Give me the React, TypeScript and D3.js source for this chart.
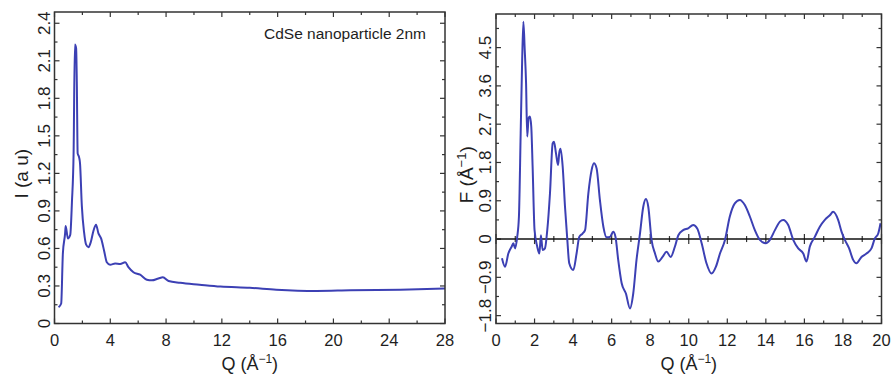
import React, { useEffect, useRef } from "react";
import * as d3 from "d3";

// left panel: scattered intensity I(Q)
const iQ = [0.29, 0.48, 0.6, 0.76, 0.8, 0.96, 1.13, 1.25, 1.37, 1.46, 1.55, 1.6, 1.66, 1.76, 1.83, 1.96, 2.12, 2.27, 2.44, 2.6, 2.79, 2.98, 3.15, 3.34, 3.56, 3.75, 3.99, 4.35, 4.71, 5.07, 5.3, 5.66, 6.14, 6.62, 6.98, 7.45, 7.77, 8.18, 9.01, 10.4, 11.9, 14.0, 15.9, 18.8, 21.2, 24.8, 28];
const iVal = [0.13, 0.16, 0.56, 0.72, 0.78, 0.68, 0.71, 0.97, 1.37, 2.23, 2.2, 1.93, 1.36, 1.33, 1.28, 0.94, 0.73, 0.63, 0.61, 0.65, 0.74, 0.79, 0.72, 0.68, 0.58, 0.49, 0.47, 0.48, 0.475, 0.49, 0.45, 0.41, 0.39, 0.35, 0.345, 0.36, 0.37, 0.34, 0.325, 0.31, 0.295, 0.285, 0.27, 0.26, 0.265, 0.27, 0.28];

// right panel: reduced structure function F(Q)
const fQ = [0.31, 0.47, 0.64, 0.81, 0.9, 0.99, 1.1, 1.19, 1.28, 1.35, 1.42, 1.49, 1.56, 1.62, 1.69, 1.76, 1.83, 1.9, 2.0, 2.14, 2.25, 2.33, 2.42, 2.54, 2.66, 2.8, 2.94, 3.01, 3.11, 3.22, 3.28, 3.35, 3.46, 3.58, 3.7, 3.8, 4.01, 4.18, 4.32, 4.49, 4.62, 4.79, 4.96, 5.08, 5.22, 5.39, 5.57, 5.74, 5.91, 6.08, 6.2, 6.34, 6.52, 6.74, 6.95, 7.12, 7.29, 7.47, 7.64, 7.78, 7.9, 8.07, 8.25, 8.42, 8.64, 8.85, 9.06, 9.28, 9.46, 9.71, 9.97, 10.23, 10.44, 10.67, 10.92, 11.18, 11.41, 11.62, 11.88, 12.13, 12.39, 12.65, 12.91, 13.17, 13.43, 13.69, 14.0, 14.21, 14.47, 14.73, 14.9, 15.16, 15.42, 15.68, 15.94, 16.11, 16.28, 16.54, 16.8, 17.06, 17.32, 17.49, 17.75, 17.93, 18.1, 18.32, 18.53, 18.7, 18.96, 19.22, 19.48, 19.65, 19.83, 19.95];
const fVal = [-0.45, -0.65, -0.34, -0.18, -0.1, -0.22, 0.05, 0.53, 2.49, 4.05, 5.11, 4.45, 3.66, 2.41, 2.84, 2.88, 2.64, 1.7, 0.21, -0.18, -0.34, 0.09, -0.26, -0.22, 0.21, 1.07, 2.25, 2.29, 2.02, 1.74, 2.02, 2.12, 1.7, 0.76, -0.02, -0.57, -0.73, -0.34, 0.05, 0.13, 0.21, 1.07, 1.62, 1.78, 1.66, 0.92, 0.29, 0.04, 0.05, 0.17, 0.05, -0.49, -1.04, -1.28, -1.63, -1.28, -0.49, 0.13, 0.76, 0.94, 0.76, -0.02, -0.34, -0.53, -0.42, -0.3, -0.42, -0.18, 0.09, 0.21, 0.25, 0.33, 0.25, -0.1, -0.57, -0.81, -0.65, -0.34, -0.02, 0.53, 0.84, 0.92, 0.8, 0.53, 0.21, -0.02, -0.1, -0.02, 0.21, 0.41, 0.45, 0.33, -0.02, -0.22, -0.34, -0.53, -0.18, 0.05, 0.29, 0.45, 0.56, 0.64, 0.45, 0.17, -0.02, -0.22, -0.49, -0.57, -0.42, -0.34, -0.22, 0.01, 0.13, 0.37];

const leftXTicks = [0, 4, 8, 12, 16, 20, 24, 28];
const leftYTicks = [0, 0.3, 0.6, 0.9, 1.2, 1.5, 1.8, 2.1, 2.4];
const rightXTicks = [0, 2, 4, 6, 8, 10, 12, 14, 16, 18, 20];
const rightYTicks = [-1.8, -0.9, 0, 0.9, 1.8, 2.7, 3.6, 4.5];

const FONT = "'Liberation Sans', Arial, Helvetica, sans-serif";
const LINE = "#3c40b4";
const FRAME = "#333";
const TEXT = "#1e1e1e";

type Panel = {
  left: number; right: number; top: number; bottom: number;
  xDomain: [number, number]; yDomain: [number, number];
  xTicks: number[]; yTicks: number[];
  xMinor: number; yMinor: number;
  xs: number[]; ys: number[];
  yTitle: string; zeroLine: boolean; yTitleX: number;
};

function drawPanel(svg: d3.Selection<SVGSVGElement, unknown, null, undefined>, p: Panel) {
  const x = d3.scaleLinear().domain(p.xDomain).range([p.left, p.right]);
  const y = d3.scaleLinear().domain(p.yDomain).range([p.bottom, p.top]);
  const g = svg.append("g");

  const fmt = (v: number) => (v === 0 ? "0" : v < 0 ? "\u2212" + Math.abs(v).toString() : v.toString());

  // minor + major inner ticks, mirrored on all sides
  const xMinorTicks = d3.range(p.xDomain[0], p.xDomain[1] + 1e-9, p.xMinor);
  const yMinorTicks = d3.range(Math.ceil(p.yDomain[0] / p.yMinor) * p.yMinor, p.yDomain[1], p.yMinor);
  const tickG = g.append("g").attr("stroke", FRAME).attr("stroke-width", 1.2);
  xMinorTicks.forEach((v) => {
    const major = p.xTicks.some((t) => Math.abs(t - v) < 1e-6);
    const len = major ? 5 : 3;
    tickG.append("line").attr("x1", x(v)).attr("x2", x(v)).attr("y1", p.bottom).attr("y2", p.bottom - len);
    tickG.append("line").attr("x1", x(v)).attr("x2", x(v)).attr("y1", p.top).attr("y2", p.top + len);
    if (p.zeroLine) {
      tickG.append("line").attr("x1", x(v)).attr("x2", x(v)).attr("y1", y(0) - len).attr("y2", y(0) + len);
    }
  });
  yMinorTicks.forEach((v) => {
    const major = p.yTicks.some((t) => Math.abs(t - v) < 1e-6);
    const len = major ? 5 : 3;
    tickG.append("line").attr("x1", p.left).attr("x2", p.left + len).attr("y1", y(v)).attr("y2", y(v));
    tickG.append("line").attr("x1", p.right).attr("x2", p.right - len).attr("y1", y(v)).attr("y2", y(v));
  });

  if (p.zeroLine) {
    g.append("line").attr("x1", p.left).attr("x2", p.right).attr("y1", y(0)).attr("y2", y(0))
      .attr("stroke", "#111").attr("stroke-width", 1.6);
  }

  const line = d3.line<number>().x((_, i) => x(p.xs[i])).y((d) => y(d)).curve(d3.curveMonotoneX);
  g.append("path").attr("d", line(p.ys) || "").attr("fill", "none").attr("stroke", LINE)
    .attr("stroke-width", 2).attr("stroke-linejoin", "round");

  g.append("rect").attr("x", p.left).attr("y", p.top).attr("width", p.right - p.left)
    .attr("height", p.bottom - p.top).attr("fill", "none").attr("stroke", FRAME).attr("stroke-width", 1.5);

  // tick labels
  p.xTicks.forEach((v) => {
    g.append("text").attr("x", x(v)).attr("y", p.bottom + 22).attr("text-anchor", "middle")
      .attr("font-family", FONT).attr("font-size", 16.5).attr("fill", TEXT).text(fmt(v));
  });
  p.yTicks.forEach((v) => {
    g.append("text").attr("transform", `translate(${p.left - 5},${y(v)}) rotate(-90)`)
      .attr("text-anchor", "middle").attr("font-family", FONT).attr("font-size", 17)
      .attr("fill", TEXT).text(fmt(v));
  });

  // axis titles
  const xt = g.append("text").attr("x", (p.left + p.right) / 2).attr("y", 370).attr("text-anchor", "middle")
    .attr("font-family", FONT).attr("font-size", 18).attr("fill", TEXT);
  xt.append("tspan").text("Q (\u00C5");
  xt.append("tspan").attr("dy", -7).attr("font-size", 12).text("\u22121");
  xt.append("tspan").attr("dy", 7).text(")");

  const yt = g.append("text").attr("transform", `translate(${p.yTitleX},${(p.top + p.bottom) / 2 + 6}) rotate(-90)`)
    .attr("text-anchor", "middle").attr("font-family", FONT).attr("font-size", 19).attr("fill", TEXT);
  if (p.yTitle === "F") {
    yt.append("tspan").text("F (\u00C5");
    yt.append("tspan").attr("dy", -7).attr("font-size", 13).text("\u22121");
    yt.append("tspan").attr("dy", 7).text(")");
  } else {
    yt.text(p.yTitle);
  }
  return { x, y };
}

export default function App() {
  const ref = useRef<SVGSVGElement>(null);
  useEffect(() => {
    const svg = d3.select(ref.current!);
    svg.selectAll("*").remove();

    drawPanel(svg, {
      left: 54.5, right: 445, top: 12, bottom: 323.5,
      xDomain: [0, 28], yDomain: [0, 2.49],
      xTicks: leftXTicks, yTicks: leftYTicks, xMinor: 2, yMinor: 0.15,
      xs: iQ, ys: iVal, yTitle: "I (a u)", zeroLine: false, yTitleX: 28,
    });

    drawPanel(svg, {
      left: 496, right: 881.5, top: 14, bottom: 323.5,
      xDomain: [0, 20], yDomain: [-1.985, 5.29],
      xTicks: rightXTicks, yTicks: rightYTicks, xMinor: 1, yMinor: 0.45,
      xs: fQ, ys: fVal, yTitle: "F", zeroLine: true, yTitleX: 473,
    });

    svg.append("text").attr("x", 426).attr("y", 39).attr("text-anchor", "end")
      .attr("font-family", FONT).attr("font-size", 15.5).attr("fill", TEXT)
      .text("CdSe nanoparticle 2nm");
  }, []);

  return (
    <svg ref={ref} width={891} height={374}
      style={{ position: "absolute", left: 0, top: 0, background: "#fff" }} />
  );
}
